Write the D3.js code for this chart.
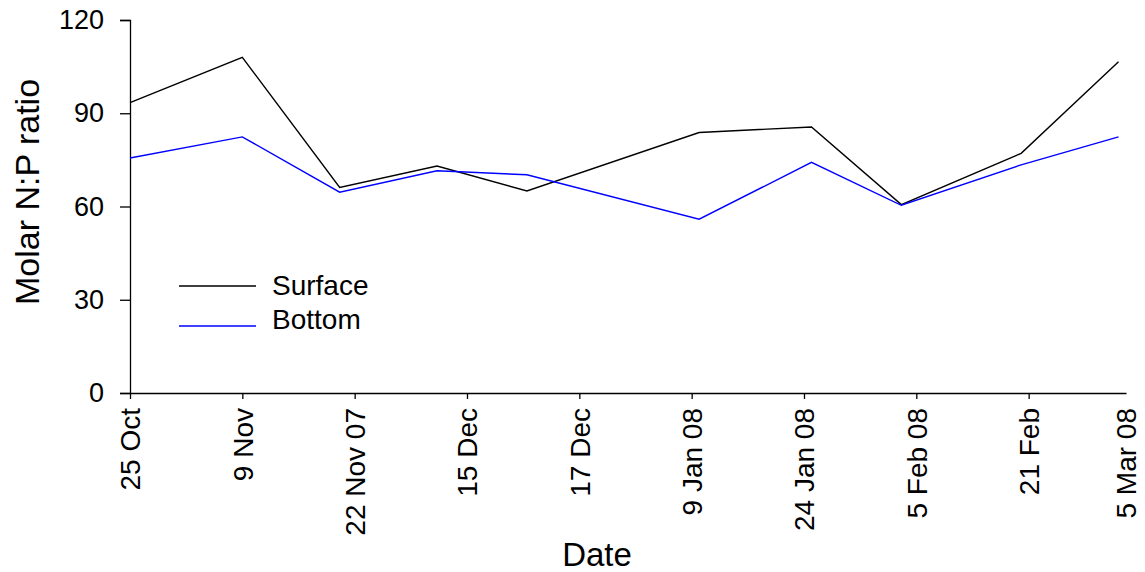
<!DOCTYPE html>
<html>
<head>
<meta charset="utf-8">
<script src="https://cdn.jsdelivr.net/npm/d3@7"></script>
<style>
  body { margin: 0; background: #fff; }
  text { font-family: "Liberation Sans", Arial, sans-serif; }
</style>
</head>
<body>
<div id="chart"></div>
<script>
const sampleDates = ["2007-10-25", "2007-11-09", "2007-11-22", "2007-12-05", "2007-12-17",
                     "2008-01-09", "2008-01-24", "2008-02-05", "2008-02-21", "2008-03-05"]
const surface = [93.4, 108.0, 66.1, 73.0, 65.0, 83.8, 85.6, 60.6, 77.1, 106.6]
const bottom  = [75.6, 82.4, 64.6, 71.5, 70.2, 55.9, 74.2, 60.4, 73.4, 82.4]

// axis ticks every 15 days, last label sits on the axis end
const tickDates = ["2007-10-25", "2007-11-09", "2007-11-24", "2007-12-09", "2007-12-24",
                   "2008-01-08", "2008-01-23", "2008-02-07", "2008-02-22", "2008-03-06"]
const tickLabels = ["25 Oct", "9 Nov", "22 Nov 07", "15 Dec", "17 Dec",
                    "9 Jan 08", "24 Jan 08", "5 Feb 08", "21 Feb", "5 Mar 08"]
const yTicks = [0, 30, 60, 90, 120]

const seriesNames = ["Surface", "Bottom"]
const seriesColors = ["#000000", "#0000ff"]

const margin = {top: 20, right: 19, bottom: 179, left: 130}
const width = 1145 - margin.left - margin.right
const height = 572 - margin.top - margin.bottom

const parseDate = d3.utcParse("%Y-%m-%d")

const xScale = d3.scaleUtc()
  .domain([parseDate("2007-10-25"), parseDate("2008-03-06")])
  .range([0, width])

const yScale = d3.scaleLinear()
  .domain([0, 120])
  .range([height, 0])

const svg = d3.select('#chart')
  .append('svg')
  .attr('width', width + margin.left + margin.right)
  .attr('height', height + margin.top + margin.bottom)
  .append('g')
  .attr('transform', 'translate(' + margin.left + ',' + margin.top + ')')

// y axis
const yAxis = d3.axisLeft(yScale).tickValues(yTicks).tickSize(10).tickPadding(16)
const gy = svg.append('g').call(yAxis)
gy.select('.domain').attr('stroke-width', 1.3)
gy.selectAll('.tick line').attr('stroke-width', 1.3)
gy.selectAll('.tick text')
  .attr('font-size', 27)
  .attr('font-family', '"Liberation Sans", Arial, sans-serif')

// x axis
const xAxis = d3.axisBottom(xScale)
  .tickValues(tickDates.map(parseDate))
  .tickFormat((d, i) => tickLabels[i])
  .tickSize(6)
  .tickSizeOuter(0)
const gx = svg.append('g')
  .attr('transform', 'translate(0,' + height + ')')
  .call(xAxis)
gx.select('.domain').attr('stroke-width', 1.3)
gx.selectAll('.tick line').attr('stroke-width', 1.3)
  .filter((d, i) => i === tickDates.length - 1).remove()
gx.selectAll('.tick text')
  .attr('font-size', 28)
  .attr('font-family', '"Liberation Sans", Arial, sans-serif')
  .attr('text-anchor', 'end')
  .attr('transform', 'rotate(-90)')
  .attr('x', -15)
  .attr('y', 0)
  .attr('dy', '0.35em')

// lines
const lineGen = d3.line()
  .x((d, i) => xScale(parseDate(sampleDates[i])))
  .y(d => yScale(d))

;[surface, bottom].forEach((vals, k) => {
  svg.append('path')
    .datum(vals)
    .attr('fill', 'none')
    .attr('stroke', seriesColors[k])
    .attr('stroke-width', 1.4)
    .attr('d', lineGen)
})

// legend
const legendY = [286, 326]
const textY = [295, 329]
seriesNames.forEach((name, k) => {
  svg.append('line')
    .attr('x1', 179 - margin.left)
    .attr('x2', 256 - margin.left)
    .attr('y1', legendY[k] - margin.top)
    .attr('y2', legendY[k] - margin.top)
    .attr('stroke', seriesColors[k])
    .attr('stroke-width', 1.4)
  svg.append('text')
    .attr('x', 272 - margin.left)
    .attr('y', textY[k] - margin.top)
    .attr('font-size', 28)
    .text(name)
})

// axis titles
svg.append('text')
  .attr('transform', 'translate(' + (39 - margin.left) + ',' + (192 - margin.top) + ') rotate(-90)')
  .attr('text-anchor', 'middle')
  .attr('font-size', 34)
  .text('Molar N:P ratio')

svg.append('text')
  .attr('x', 597 - margin.left)
  .attr('y', 566 - margin.top)
  .attr('text-anchor', 'middle')
  .attr('font-size', 33)
  .text('Date')
</script>
</body>
</html>
